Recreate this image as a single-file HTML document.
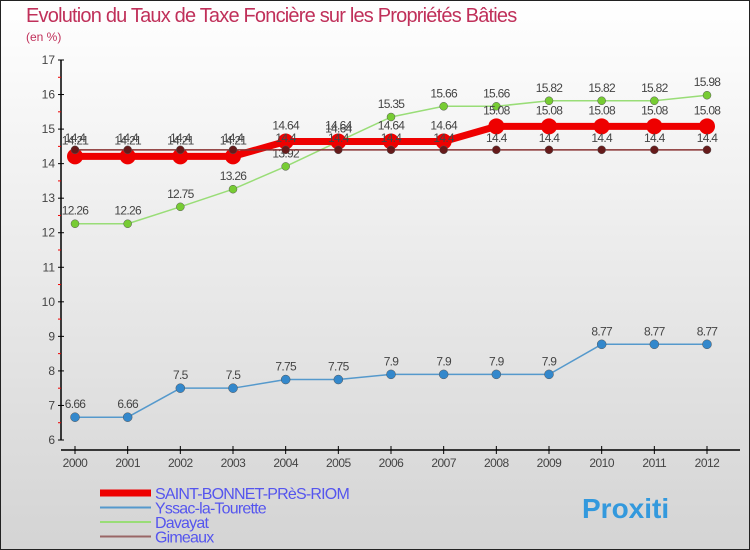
<!DOCTYPE html>
<html><head><meta charset="utf-8"><style>
body{margin:0}
#c{width:750px;height:550px;position:relative;box-sizing:border-box;border:1px solid #222;background:linear-gradient(#fff,#d4d4d4);font-family:"Liberation Sans",sans-serif;overflow:hidden}
</style></head><body>
<div id="c">
<svg id="s" width="750" height="550" style="position:absolute;left:-1px;top:-1px">
<text x="26" y="22" font-size="20" fill="#c0305a" letter-spacing="-0.8">Evolution du Taux de Taxe Foncière sur les Propriétés Bâties</text>
<text x="26" y="41" font-size="12" fill="#c0305a">(en %)</text>
<g id="g"></g>
</svg>
</div>
<script>
const years=[2000,2001,2002,2003,2004,2005,2006,2007,2008,2009,2010,2011,2012];
const saint=[14.21,14.21,14.21,14.21,14.64,14.64,14.64,14.64,15.08,15.08,15.08,15.08,15.08];
const yssac=[6.66,6.66,7.5,7.5,7.75,7.75,7.9,7.9,7.9,7.9,8.77,8.77,8.77];
const davayat=[12.26,12.26,12.75,13.26,13.92,14.64,15.35,15.66,15.66,15.82,15.82,15.82,15.98];
const gimeaux=[14.4,14.4,14.4,14.4,14.4,14.4,14.4,14.4,14.4,14.4,14.4,14.4,14.4];
const yTicks=[6,7,8,9,10,11,12,13,14,15,16,17];
const names=["SAINT-BONNET-PRèS-RIOM","Yssac-la-Tourette","Davayat","Gimeaux"];
const X=i=>75+i*(707-75)/(years.length-1);
const Y=v=>440-(v-6)*(380/11);
const g=document.getElementById('g');
const NS='http://www.w3.org/2000/svg';
function mk(t,a,p){const e=document.createElementNS(NS,t);for(const k in a)e.setAttribute(k,a[k]);(p||g).appendChild(e);return e;}
function fmt(v){return String(v);}
let e=mk('line',{x1:61,y1:60,x2:61,y2:440,stroke:'#000','stroke-width':1.5});


yTicks.forEach(v=>{
 mk('line',{x1:58,y1:Y(v),x2:64,y2:Y(v),stroke:'#000'});
 if(v<17) mk('line',{x1:58,y1:Y(v+0.5),x2:61,y2:Y(v+0.5),stroke:'#e00'});
 const t=mk('text',{x:55,y:Y(v)+4,'font-size':12,'text-anchor':'end',fill:'#444'});t.textContent=v;
 
 
});
e=mk('line',{x1:61,y1:450,x2:740,y2:450,stroke:'#000','stroke-width':1.5});


years.forEach((y,i)=>{
 mk('line',{x1:X(i),y1:446,x2:X(i),y2:454,stroke:'#000'});
 const t=mk('text',{x:X(i),y:467,'font-size':12,'text-anchor':'middle',fill:'#444','letter-spacing':'-0.5'});t.textContent=y;
 
 
});
function series(data,col,w,r,fill,name,lblDy){
 const pts=data.map((v,i)=>X(i)+','+Y(v)).join(' ');
 const l=mk('polyline',{points:pts,fill:'none',stroke:col,'stroke-width':w,'stroke-linejoin':'round'});
 
 
 data.forEach((v,i)=>{
  const c=mk('circle',{cx:X(i),cy:Y(v),r:r,fill:fill,stroke:w>3?'none':'#555','stroke-width':0.5});
  
  
  const t=mk('text',{x:X(i),y:Y(v)+lblDy,'font-size':12,'text-anchor':'middle',fill:'#444','letter-spacing':'-0.7'});
  t.textContent=fmt(v);
  
  
 });
}
series(davayat,'#99dd77',1.5,4,'#77cc33','davayat',-9);
series(yssac,'#5599cc',1.5,4.5,'#3388cc','yssac',-9);
series(saint,'#ee0000',7,8,'#ee0000','saint-bonnet',-12);
series(gimeaux,'#883333',1.5,4,'#661a1a','gimeaux',-8);
const lc=['#ee0000','#5599cc','#99dd77','#996666'],lw=[7,2,2,2];
names.forEach((n,i)=>{
 const y=493+i*14.5;
 const l=mk('line',{x1:100,y1:y,x2:151,y2:y,stroke:lc[i],'stroke-width':lw[i]});
 
 
 const t=mk('text',{x:155,y:y+6,'font-size':16,fill:'#5555ee','letter-spacing':'-0.8'});t.textContent=n;
 
 
});
const p=mk('text',{x:582,y:518,'font-size':28,'font-weight':'bold',fill:'#3399dd'});
p.textContent='Proxiti';


</script>
</body></html>
